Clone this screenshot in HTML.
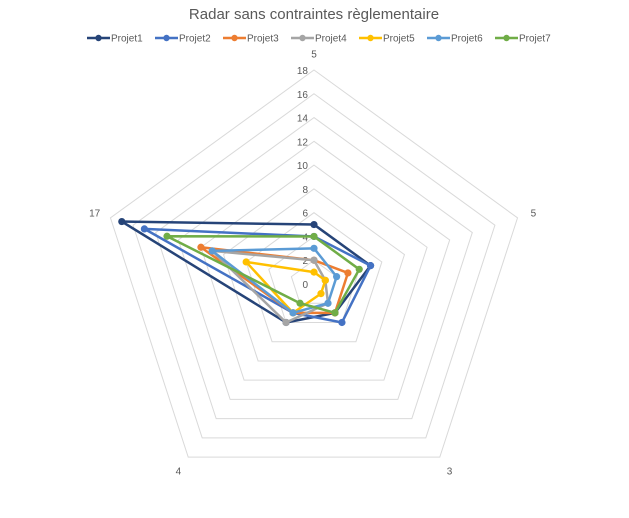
<!DOCTYPE html>
<html><head><meta charset="utf-8"><style>
html,body{margin:0;padding:0;background:#fff;}
svg{display:block;font-family:"Liberation Sans",sans-serif;}
</style></head><body>
<svg id="chart" width="629" height="518" viewBox="0 0 629 518">
<text x="314" y="19" text-anchor="middle" font-size="15" fill="#595959">Radar sans contraintes règlementaire</text>
<g id="legend"></g>
<g id="grid"></g>
<g id="series"></g>
</svg>
<script>
const categories = ["5", "5", "3", "4", "17"];
const seriesNames = ["Projet1","Projet2","Projet3","Projet4","Projet5","Projet6","Projet7"];
const projet1 = [5, 5, 3, 4, 17];
const projet2 = [4, 5, 4, 3, 15];
const projet3 = [2, 3, 3, 3, 10];
const projet4 = [2, 1, 2, 4, 9];
const projet5 = [1, 1, 1, 3, 6];
const projet6 = [3, 2, 2, 3, 9];
const projet7 = [4, 4, 3, 2, 13];
const tickLabels = [0, 2, 4, 6, 8, 10, 12, 14, 16, 18];

const colors = ["#264478","#4472C4","#ED7D31","#A5A5A5","#FFC000","#5B9BD5","#70AD47"];
const allSeries = [projet1, projet2, projet3, projet4, projet5, projet6, projet7];
const NS = "http://www.w3.org/2000/svg";
const cx = 314, cy = 284, R = 214, vmax = 18;
function rScale(v){ return v / vmax * R; }
function pt(i, v){
  const a = -Math.PI/2 + i * 2*Math.PI/categories.length;
  const r = rScale(v);
  return [cx + r*Math.cos(a), cy + r*Math.sin(a)];
}
function mk(tag, attrs, parent){
  const e = document.createElementNS(NS, tag);
  for (const k in attrs) e.setAttribute(k, attrs[k]);
  parent.appendChild(e);
  return e;
}
const grid = document.getElementById('grid');
tickLabels.forEach(t => {
  if (t > 0) {
    const pts = categories.map((c,i) => pt(i,t).join(',')).join(' ');
    const ring = mk('polygon', {points: pts, fill: 'none', stroke: '#D9D9D9', 'stroke-width': 1}, grid);
    
    
  }
  const p = pt(0, t);
  const lab = mk('text', {x: p[0]-6, y: p[1]+4, 'text-anchor': 'end', 'font-size': 10, fill: '#595959'}, grid);
  lab.textContent = t;
  
  
});
categories.forEach((c,i) => {
  const q = pt(i, vmax + 1.4);
  const lab = mk('text', {x: q[0], y: q[1]+4, 'text-anchor': 'middle', 'font-size': 10, fill: '#595959'}, grid);
  lab.textContent = c;
  
  
});
const sg = document.getElementById('series');
allSeries.forEach((vals, s) => {
  const g = mk('g', {}, sg);
  
  
  const pts = vals.map((v,i) => pt(i,v).join(',')).join(' ');
  const poly = mk('polygon', {points: pts, fill: 'none', stroke: colors[s], 'stroke-width': 2.5, 'stroke-linejoin': 'round'}, g);
  
  
  vals.forEach((v,i) => {
    const p = pt(i,v);
    const c = mk('circle', {cx: p[0], cy: p[1], r: 3.6, fill: colors[s]}, g);
    
    
  });
});
const lg = document.getElementById('legend');
seriesNames.forEach((n, s) => {
  const x = 87 + s*68, y = 38;
  const g = mk('g', {}, lg);
  
  
  mk('line', {x1: x, y1: y, x2: x+23, y2: y, stroke: colors[s], 'stroke-width': 2.5}, g);
  mk('circle', {cx: x+11.5, cy: y, r: 3.2, fill: colors[s]}, g);
  const t = mk('text', {x: x+24, y: y+3.5, 'font-size': 10, fill: '#595959'}, g);
  t.textContent = n;
});
</script>
</body></html>
